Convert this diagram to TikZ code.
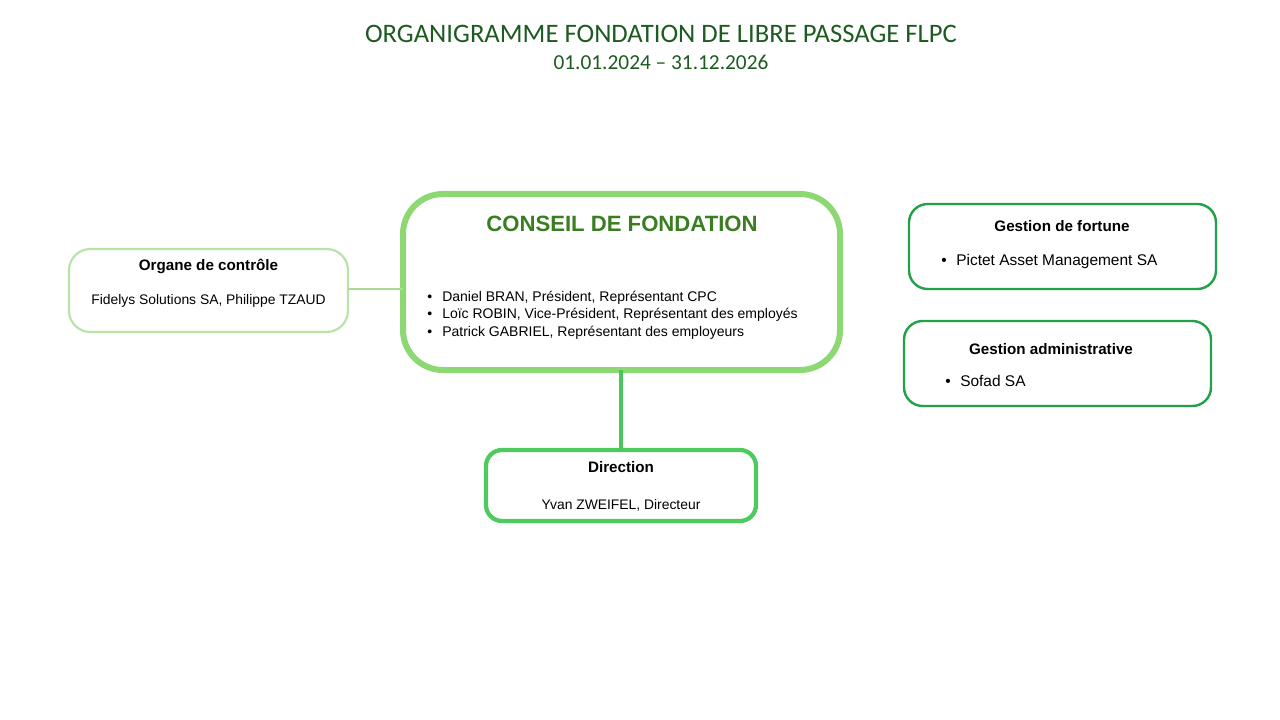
\documentclass[tikz,border=0pt]{standalone}
\usepackage{fontspec}
\setmainfont{Liberation Sans}
\newfontfamily\titlefont{Carlito}
\definecolor{titlegreen}{HTML}{1E5B22}
\definecolor{cfgreen}{HTML}{3A7D22}
\definecolor{lightbord}{HTML}{B8E3A8}
\definecolor{lightconn}{HTML}{A8DC96}
\definecolor{cfbord}{HTML}{8DD873}
\definecolor{dirbord}{HTML}{4ECB5E}
\definecolor{vconn}{HTML}{4EC45E}
\definecolor{gestbord}{HTML}{22A04A}
\newcommand{\bul}{\makebox[11.25pt][l]{\textbullet}}
\tikzset{
  box/.style={rounded corners=#1, fill=white},
  boxtitle/.style={font=\fontsize{11.4}{13}\selectfont\bfseries, inner sep=0pt},
  boxtext/.style={font=\fontsize{10.4}{12}\selectfont, inner sep=0pt},
  gesttext/.style={font=\fontsize{11.6}{13}\selectfont, inner sep=0pt},
}
\begin{document}
\begin{tikzpicture}[x=0.75pt,y=-0.75pt]
\useasboundingbox[fill=white] (0,0) rectangle (1280,720);
% title
\node[font=\titlefont\fontsize{20}{22}\selectfont, text=titlegreen, inner sep=0pt] (title) at (661,34) {ORGANIGRAMME FONDATION DE LIBRE PASSAGE FLPC};
\node[font=\titlefont\fontsize{16}{18}\selectfont, text=titlegreen, inner sep=0pt] (dates) at (661,62) {01.01.2024 \textendash{} 31.12.2026};
% boxes
\draw[box=16, draw=lightbord, line width=1.6] (69,249) rectangle (348,332);
\coordinate (orgE) at (348,289);
\draw[box=30, draw=cfbord, line width=4.5] (403,194) rectangle (840,370);
\coordinate (cfW) at (403,289);
\coordinate (cfS) at (621,370);
\draw[box=12, draw=dirbord, line width=3.2] (486,450) rectangle (756,521);
\coordinate (dirN) at (621,450);
\draw[box=14, draw=gestbord, line width=1.8] (909,204) rectangle (1216,289);
\draw[box=14, draw=gestbord, line width=1.8] (904,321) rectangle (1211,406);
% connectors
\draw[lightconn, line width=2] (orgE) -- (cfW);
\draw[vconn, line width=3.2] (cfS) -- (dirN);
% organe
\node[boxtitle] (orgT) at (208.5,266.5) {Organe de contrôle};
\node[boxtext] (orgX) at (208.5,301) {Fidelys Solutions SA, Philippe TZAUD};
% conseil
\node[font=\fontsize{16.6}{18}\selectfont\bfseries, text=cfgreen, inner sep=0pt] (cfT) at (622,224) {CONSEIL DE FONDATION};
\node[boxtext, anchor=west, align=left, font=\fontsize{10.5}{13.2}\selectfont] (cfX) at (427,315) {\bul Daniel BRAN, Président, Représentant CPC\\ \bul Loïc ROBIN, Vice-Président, Représentant des employés\\ \bul Patrick GABRIEL, Représentant des employeurs};
% direction
\node[boxtitle] (dirT) at (621,467.5) {Direction};
\node[boxtext] (dirX) at (621,505) {Yvan ZWEIFEL, Directeur};
% gestion de fortune
\node[boxtitle] (gfT) at (1062,226) {Gestion de fortune};
\node[gesttext, anchor=west] (gfX) at (941,262) {\bul Pictet Asset Management SA};
% gestion administrative
\node[boxtitle] (gaT) at (1051,349) {Gestion administrative};
\node[gesttext, anchor=west] (gaX) at (945,381) {\bul Sofad SA};
\end{tikzpicture}
\end{document}
